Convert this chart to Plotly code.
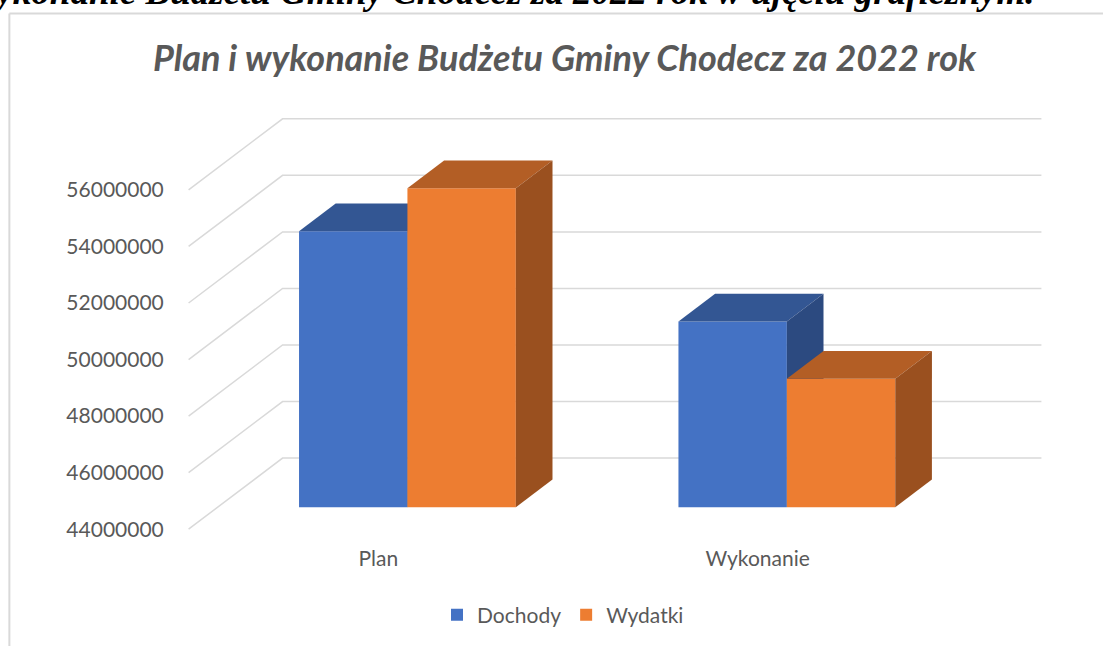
import plotly.graph_objects as go

# ---------------- data ----------------
categories = ["Plan", "Wykonanie"]
series_names = ["Dochody", "Wydatki"]
dochody = [53760000, 50570000]
wydatki = [55280000, 48540000]
y_ticks = [44000000, 46000000, 48000000, 50000000, 52000000, 54000000, 56000000]
y_tick_labels = ["44000000", "46000000", "48000000", "50000000", "52000000", "54000000", "56000000"]
chart_title = "Plan i wykonanie Budżetu Gminy Chodecz za 2022 rok"
doc_heading = "Plan i wykonanie Budżetu Gminy Chodecz za 2022 rok w ujęciu graficznym."

# ---------------- style / geometry ----------------
W, H = 1103, 646
FLOOR = y_ticks[0]
TOP = y_ticks[-1]
PX_CAT = 379.5            # pixels per category unit
PX_VAL = 28.25 / 1e6      # pixels per value unit
X0_PX = 378.0             # pixel x of category 0 (front plane)
YF_PX = 529.3             # pixel y of floor value (front plane)
DX = 94.0 / PX_CAT        # depth shift in x units
DY = 71.0 / PX_VAL        # depth shift in value units
BAR_W = 1 / 3.5           # gap width 150 %
F1, F2 = 0.31, 0.70       # bar front/back depth fractions

xr = [-0.52, 1.5 + DX + 0.02]
yr = [FLOOR - 0.1e6, TOP + DY + 0.1e6]
ML = X0_PX + xr[0] * PX_CAT
MR = W - (X0_PX + xr[1] * PX_CAT)
MT = YF_PX - (yr[1] - FLOOR) * PX_VAL
MB = H - (YF_PX + (FLOOR - yr[0]) * PX_VAL)
PW = W - ML - MR
PH = H - MT - MB

GRAY_TXT = "#595959"
GRID = "#d9d9d9"
FONT = "Lato"
colors = {
    "Dochody": {"front": "#4472C4", "top": "#335693", "side": "#2C4A80"},
    "Wydatki": {"front": "#ED7D31", "top": "#B35E25", "side": "#9A501F"},
}

fig = go.Figure()

# gridlines (left wall + back wall) on base axes (drawn beneath the bar subplots)
gx, gy = [], []
for v in y_ticks:
    gx += [xr[0] + 0.02, xr[0] + 0.02 + DX, 1.5 + DX, None]
    gy += [v, v + DY, v + DY, None]
fig.add_trace(go.Scatter(x=gx, y=gy, mode="lines", line=dict(color=GRID, width=1.5),
                         hoverinfo="skip", showlegend=False, xaxis="x", yaxis="y"))

def add_series(idx, name, values, xa, ya):
    c = colors[name]
    lefts = [i - BAR_W + idx * BAR_W + F1 * DX for i in range(len(values))]
    fig.add_trace(go.Bar(
        x=lefts, y=[v - FLOOR for v in values], base=[FLOOR + F1 * DY] * len(values),
        width=BAR_W, offset=0, name=name, marker=dict(color=c["front"], line=dict(width=0)),
        xaxis=xa, yaxis=ya, showlegend=True, hovertemplate="%{customdata}<extra>" + name + "</extra>",
        customdata=[categories[i] + ": " + str(values[i]) for i in range(len(values))],
    ))
    bdx = (F2 - F1) * DX
    bdy = (F2 - F1) * DY
    for x0, v in zip(lefts, values):
        x1 = x0 + BAR_W
        yt = v + F1 * DY
        yb = FLOOR + F1 * DY
        # top face
        fig.add_trace(go.Scatter(
            x=[x0, x1, x1 + bdx, x0 + bdx, x0], y=[yt, yt, yt + bdy, yt + bdy, yt],
            fill="toself", fillcolor=c["top"], mode="lines", line=dict(width=0, color=c["top"]),
            hoverinfo="skip", showlegend=False, xaxis=xa, yaxis=ya))
        # side face
        fig.add_trace(go.Scatter(
            x=[x1, x1 + bdx, x1 + bdx, x1, x1], y=[yb, yb + bdy, yt + bdy, yt, yb],
            fill="toself", fillcolor=c["side"], mode="lines", line=dict(width=0, color=c["side"]),
            hoverinfo="skip", showlegend=False, xaxis=xa, yaxis=ya))

add_series(0, series_names[0], dochody, "x2", "y2")
add_series(1, series_names[1], wydatki, "x3", "y3")

def pxx(px):
    return (px - ML) / PW

def pxy(py):
    return 1 - (py - MT) / PH

hidden = dict(visible=False, fixedrange=True, showgrid=False, zeroline=False)

fig.update_layout(
    width=W, height=H, autosize=False,
    margin=dict(l=ML, r=MR, t=MT, b=MB, pad=0),
    paper_bgcolor="white", plot_bgcolor="rgba(0,0,0,0)",
    barmode="overlay",
    font=dict(family=FONT, color=GRAY_TXT, size=21),
    title=dict(text="<b><i>" + chart_title + "</i></b>", font=dict(family=FONT, size=36, color=GRAY_TXT),
               x=564.5 / W, xref="container", xanchor="center",
               y=1 - 58 / H, yref="container", yanchor="middle"),
    xaxis=dict(range=xr, tickmode="array", tickvals=list(range(len(categories))), ticktext=categories,
               showgrid=False, zeroline=False, showline=False, ticks="outside", ticklen=8,
               tickcolor="rgba(0,0,0,0)", tickfont=dict(size=21, color=GRAY_TXT, family=FONT), fixedrange=True),
    yaxis=dict(range=yr, tickmode="array", tickvals=y_ticks, ticktext=y_tick_labels,
               showgrid=False, zeroline=False, showline=False, ticks="outside", ticklen=12,
               tickcolor="rgba(0,0,0,0)", tickfont=dict(size=21, color=GRAY_TXT, family=FONT), fixedrange=True),
    xaxis2=dict(range=xr, overlaying="x", **hidden),
    yaxis2=dict(range=yr, overlaying="y", **hidden),
    xaxis3=dict(range=xr, overlaying="x", **hidden),
    yaxis3=dict(range=yr, overlaying="y", **hidden),
    legend=dict(orientation="h", xref="container", yref="container", x=563 / W, xanchor="center",
                y=1 - 615 / H, yanchor="middle", font=dict(size=21, color=GRAY_TXT, family=FONT),
                bgcolor="rgba(0,0,0,0)"),
    shapes=[
        dict(type="line", xref="paper", yref="paper", x0=pxx(9), x1=pxx(9), y0=pxy(14), y1=pxy(H + 10),
             line=dict(color=GRID, width=2)),
        dict(type="line", xref="paper", yref="paper", x0=pxx(9), x1=pxx(W + 10), y0=pxy(14), y1=pxy(14),
             line=dict(color=GRID, width=2)),
    ],
    annotations=[
        dict(text="<b><i>" + doc_heading + "</i></b>", xref="paper", yref="paper",
             x=pxx(1037), y=pxy(14.5), xanchor="right", yanchor="bottom", showarrow=False,
             font=dict(family="Liberation Serif", size=37, color="black")),
    ],
)

fig.write_html("out.html", config={"displayModeBar": False},
               post_script="document.body.style.margin='0';")
